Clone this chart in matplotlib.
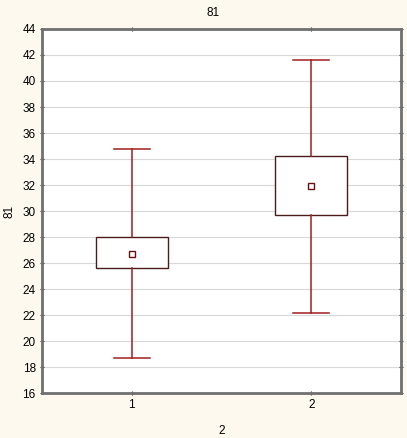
import matplotlib.pyplot as plt

groups = ['1', '2']
means = [26.69, 31.92]
box_lo = [25.59, 29.69]
box_hi = [27.98, 34.23]
whisk_lo = [18.72, 22.15]
whisk_hi = [34.79, 41.62]

plt.rcParams['font.family'] = ['Liberation Sans', 'DejaVu Sans']
plt.rcParams['font.size'] = 8.5

bg = '#fdf9ef'
fig = plt.figure(figsize=(4.07, 4.38), dpi=100, facecolor=bg)
ax = fig.add_axes([0.1032, 0.1027, 0.8821, 0.8311])

stats = []
for i in range(len(groups)):
    stats.append(dict(label=groups[i], mean=means[i], med=means[i],
                      q1=box_lo[i], q3=box_hi[i],
                      whislo=whisk_lo[i], whishi=whisk_hi[i]))

ax.bxp(stats, positions=[1, 2], widths=0.4, patch_artist=True,
       showmeans=True, showfliers=False,
       boxprops=dict(facecolor='white', edgecolor='#4a1c1c', linewidth=1.0),
       whiskerprops=dict(color='#a01e1e', linewidth=1.1),
       capprops=dict(color='#a01e1e', linewidth=1.1),
       capwidths=0.2,
       medianprops=dict(linewidth=0),
       meanprops=dict(marker='s', markersize=4, markerfacecolor='white',
                      markeredgecolor='#6a1010', markeredgewidth=1.0))

ax.set_xlim(0.5, 2.5)
ax.set_ylim(16, 44)
ax.set_yticks(range(16, 45, 2))
ax.set_xticks([1, 2])
ax.set_xticklabels(groups)
ax.grid(axis='y', color='#d8d8d8', linewidth=0.8)
ax.set_axisbelow(True)
ax.tick_params(direction='inout', length=3, width=0.8, color='#333333',
               top=True, right=True, labelsize=8.5, pad=3)
for s in ax.spines.values():
    s.set_color('#707070')
    s.set_linewidth(2)

ax.set_title('81', fontsize=8.5, pad=9, x=0.476)
ax.set_ylabel('81', labelpad=5)
ax.set_xlabel('2', labelpad=10)

fig.savefig('out.png', facecolor=bg)
